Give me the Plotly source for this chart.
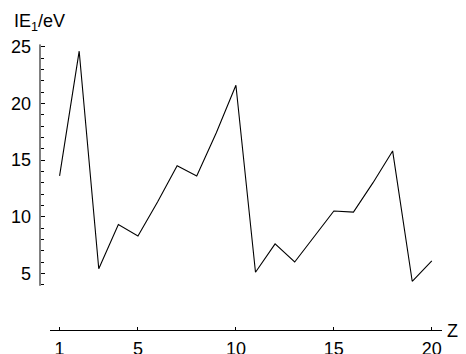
import plotly.graph_objects as go

# Data: first ionization energies of elements Z = 1..20
Z = list(range(1, 21))
IE1 = [13.6, 24.6, 5.4, 9.3, 8.3, 11.3, 14.5, 13.6, 17.4, 21.6,
       5.1, 7.6, 6.0, 8.2, 10.5, 10.4, 13.0, 15.8, 4.3, 6.1]
x_ticks = [1, 5, 10, 15, 20]
y_ticks = [5, 10, 15, 20, 25]
y_minor = list(range(4, 26))

# the page body adds an 8px offset, so the figure is 8px smaller
OFF = 8
W, H = 466 - OFF, 354 - OFF
ML, MR, MT, MB = 40 - OFF, 24, 41 - OFF, 24
PW, PH = W - ML - MR, H - MT - MB
X0, X1 = 0.49, 20.52      # visible x axis line extent
YMAX = 25.5               # y range of plot area (starts at 0)
Y0, Y1 = 3.9, 25.2        # visible y axis line extent

FONT = "Liberation Sans, Arial, Helvetica, sans-serif"
FS = 18

fig = go.Figure()
fig.add_trace(go.Scatter(x=Z, y=IE1, mode="lines",
                         line=dict(color="black", width=1.1),
                         hoverinfo="skip", showlegend=False))

fig.update_layout(
    template="none",
    width=W, height=H,
    margin=dict(l=ML, r=MR, t=MT, b=MB, pad=0),
    paper_bgcolor="white", plot_bgcolor="white",
    font=dict(family=FONT, size=FS, color="black"),
    xaxis=dict(domain=[X0 / X1, 1], range=[X0, X1], showline=True,
               linecolor="black", linewidth=1, ticks="inside", ticklen=3,
               tickwidth=1, tickcolor="black", tickmode="array",
               tickvals=x_ticks, showgrid=False, zeroline=False,
               automargin=False, tickfont=dict(size=FS), anchor="y",
               ticklabelstandoff=2),
    yaxis=dict(domain=[0, 1], range=[0, YMAX], anchor="free", position=0,
               showline=False, ticks="inside", ticklen=4,
               tickwidth=1, tickcolor="black", tickmode="array",
               tickvals=y_ticks, showgrid=False, zeroline=False,
               automargin=False, tickfont=dict(size=FS),
               ticklabelstandoff=9,
               minor=dict(ticks="inside", ticklen=2.5, tickcolor="black",
                          tickwidth=1, tickmode="array", tickvals=y_minor,
                          showgrid=False)),
    shapes=[dict(type="line", xref="paper", yref="y", x0=0, x1=0,
                 y0=Y0, y1=Y1, line=dict(color="black", width=1))],
    annotations=[
        dict(text="IE<sub>1</sub>/eV", xref="paper", yref="paper",
             x=(12 - OFF - ML) / PW, y=(H - MB - (23 - OFF)) / PH,
             xanchor="left", yanchor="middle", showarrow=False,
             font=dict(size=FS)),
        dict(text="Z", xref="paper", yref="paper",
             x=(445 - OFF - ML) / PW, y=(H - MB - (331 - OFF)) / PH,
             xanchor="left", yanchor="middle", showarrow=False,
             font=dict(size=FS)),
    ],
)

fig.write_html("out.html")
